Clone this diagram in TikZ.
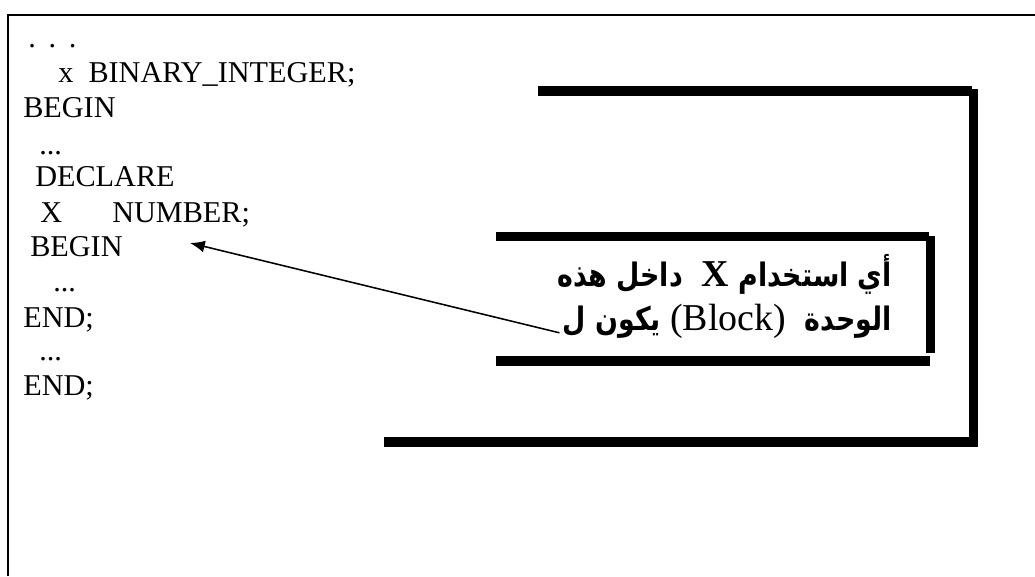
\documentclass[tikz,border=0pt]{standalone}
\usepackage{fontspec}
\setmainfont{Liberation Serif}
\newfontfamily\arabicfont[Script=Arabic, FakeStretch=0.83]{DejaVu Sans}
\TeXXeTstate=1
\usepackage{tikz}
\usetikzlibrary{arrows.meta}

\newcommand{\latinpart}[1]{{\rmfamily\fontsize{27}{30}\selectfont #1}}

\begin{document}
\begin{tikzpicture}[
		code/.style={anchor=base west, inner sep=0pt, font=\fontsize{21.5}{25}\selectfont},
		note/.style={anchor=base east, inner sep=0pt, font=\arabicfont\bfseries\fontsize{23}{28}\selectfont},
		bar/.style={line width=6.7pt},
		frameline/.style={line width=1.4pt}
	]
		\useasboundingbox (0,0) rectangle (25.875,14.4);

		% Page frame
		\draw[frameline] (0.2075,0) -- (0.2075,14.03) -- (25.875,14.03);

		% Code lines
		\node[code] (dots) at (0.7,13.2) {.\hspace{0.32cm}.\hspace{0.32cm}.};
		\node[code] (decl) at (1.45,12.325) {x\ \ BINARY\_INTEGER;};
		\node[code] (begin1) at (0.575,11.45) {BEGIN};
		\node[code] (skip1) at (0.975,10.525) {...};
		\node[code] (declare) at (0.875,9.725) {DECLARE};
		\node[code] (varx) at (1.0,8.825) {X};
		\node[code] (vartype) at (2.8,8.825) {NUMBER;};
		\node[code] (begin2) at (0.75,7.975) {BEGIN};
		\node[code] (skip2) at (1.325,7.1) {...};
		\node[code] (end1) at (0.575,6.225) {END;};
		\node[code] (skip3) at (0.975,5.4) {...};
		\node[code] (end2) at (0.575,4.525) {END;};

		% Outer block
		\draw[bar] (13.45,12.125) -- (24.3,12.125);
		\draw[bar] (24.34,12.175) -- (24.34,3.225);
		\draw[bar] (9.6,3.35) -- (24.35,3.35);

		% Inner block
		\draw[bar] (12.4,8.49) -- (23.225,8.49);
		\draw[bar] (23.26,8.5) -- (23.26,5.575);
		\draw[bar] (12.4,5.375) -- (23.25,5.375);

		% Note
		\node[note] (noteA) at (22.3,7.225) {\beginR أي استخدام \latinpart{\bfseries X}\ \ داخل هذه\endR};
		\node[note] (noteB) at (22.3,6.15) {\beginR الوحدة\ \ \beginL\latinpart{\mdseries(Block)}\endL{} يكون ل\endR};

		% Pointer
		\coordinate (tip) at (4.75,8.325);
		\draw[line width=1.1pt, -{Latex[length=10.5pt,width=8.5pt]}] ([shift={(-0.08,-0.07)}]noteB.base west) -- (tip);
	\end{tikzpicture}
\end{document}
